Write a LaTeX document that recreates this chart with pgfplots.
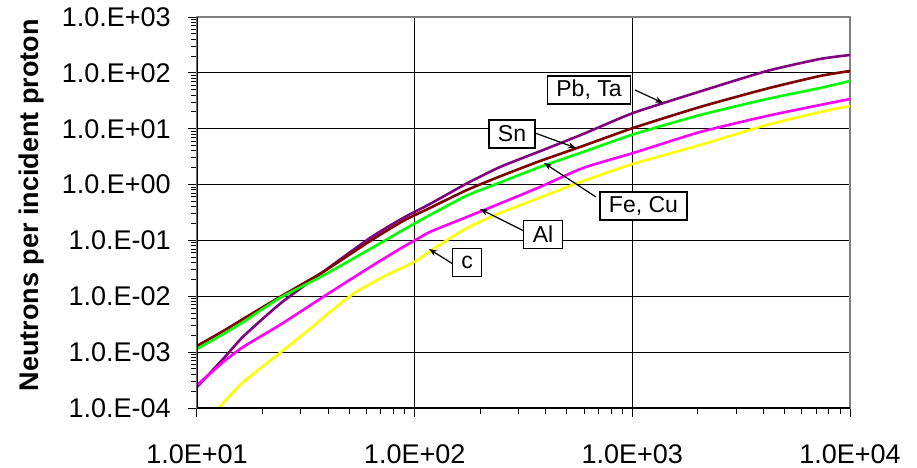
\documentclass[border=0pt]{standalone}
\usepackage{pgfplots}
\pgfplotsset{compat=1.18}
\usepackage{fontspec}
\setmainfont{Liberation Sans}
\usetikzlibrary{arrows.meta}
\definecolor{cPb}{RGB}{128,0,128}
\definecolor{cSn}{RGB}{128,0,0}
\definecolor{cFe}{RGB}{0,255,0}
\definecolor{cAl}{RGB}{255,0,255}
\definecolor{cC}{RGB}{255,255,0}
\begin{document}
\begin{tikzpicture}
\path[use as bounding box] (-98.5pt,-29.5pt) rectangle (360pt,204pt);
\begin{axis}[
  at={(0,0)}, anchor=south west,
  scale only axis,
  width=326.5pt, height=195.5pt,
  xmode=log, ymode=log,
  xmin=10, xmax=10000, ymin=1e-4, ymax=1e3,
  xtick={10,100,1000,10000},
  xticklabels={1.0E+01,1.0E+02,1.0E+03,1.0E+04},
  ytick={1e-4,1e-3,1e-2,1e-1,1,10,100,1000},
  yticklabels={1.0.E-04,1.0.E-03,1.0.E-02,1.0.E-01,1.0.E+00,1.0.E+01,1.0.E+02,1.0.E+03},
  minor xtick={}, minor ytick={},
  xtick pos=left, ytick pos=left,
  tick align=outside,
  major tick length=4.5pt,
  tick style={black, line width=0.5pt},
  grid=major,
  major grid style={black, line width=0.5pt},
  axis line style={gray, line width=0.6pt},
  tick label style={font=\fontsize{13.5}{16}\selectfont, inner sep=0pt},
  xticklabel style={anchor=north, yshift=-13.5pt},
  yticklabel style={anchor=east, xshift=-8.5pt},
  ylabel={\bfseries Neutrons per incident proton},
  ylabel style={font=\fontsize{13.5}{16}\selectfont, at={(axis description cs:-0.2527,0.519)}, rotate=0, anchor=center},
  every axis plot/.append style={line width=1.3pt, no markers, smooth, tension=0.35},
  clip=true,
]
\addplot[cPb] coordinates {
(10,2.38e-4) (13.2,7.6e-4) (16.3,1.9e-3) (24.0,7.28e-3) (37.9,2.72e-2)
(62.4,0.111) (88.4,0.252) (117.5,0.449) (173.8,1.05) (246.5,2.06)
(376.5,3.95) (593,8.0) (1007,19.1) (2046,46.4) (4150,108) (7278,177) (10000,209)};
\addplot[cSn] coordinates {
(10,1.29e-3) (13.2,2.39e-3) (16.3,3.93e-3) (24.0,9.7e-3) (37.9,2.72e-2)
(62.4,9.77e-2) (88.4,0.223) (117.5,0.381) (173.8,0.80) (246.5,1.40)
(376.5,2.64) (593,4.91) (1007,10.3) (2046,24.5) (4150,52.2) (7278,87.9) (10000,108)};
\addplot[cFe] coordinates {
(10,1.14e-3) (13.2,2.11e-3) (16.3,3.47e-3) (24.0,9.33e-3) (37.9,2.35e-2)
(62.4,7.03e-2) (88.4,0.154) (117.5,0.285) (173.8,0.637) (246.5,1.09)
(376.5,2.07) (593,3.83) (1007,7.9) (2046,17.6) (4150,34.0) (7278,53.6) (10000,71.5)};
\addplot[cAl] coordinates {
(10,2.58e-4) (13.2,6.67e-4) (16.3,1.24e-3) (24.0,3.06e-3) (37.9,9.7e-3)
(62.4,3.34e-2) (88.4,7.63e-2) (100,0.1) (117.5,0.142) (173.8,0.263) (246.5,0.458)
(376.5,0.906) (593,1.98) (1007,3.67) (2046,8.73) (4150,16.9) (7278,26.6) (10000,34.0)};
\addplot[cC] coordinates {
(12.6,1.02e-4) (16.3,2.92e-4) (24.0,9.66e-4) (31.7,2.30e-3) (43.5,6.43e-3)
(53.7,1.19e-2) (71.4,2.22e-2) (101.4,4.29e-2) (117.5,6.5e-2) (173.8,0.167) (246.5,0.31)
(376.5,0.587) (593,1.16) (1007,2.35) (2046,5.12) (4150,11.7) (7278,19.9) (10000,25.5)};
\draw[black, line width=0.7pt] (rel axis cs:0,1) -- (rel axis cs:0,0) -- (rel axis cs:1,0);
\end{axis}
\begin{scope}[every node/.style={draw=black, line width=0.6pt, fill=white, font=\fontsize{11.5}{14}\selectfont, inner xsep=4.5pt, inner ysep=0pt, minimum height=14pt},
  arr/.style={-{Stealth[length=4pt,width=3pt]}, black, line width=0.6pt}]
\draw[arr] (219pt,159pt) -- (233pt,152.5pt);
\node at (196pt,159pt) {Pb, Ta};
\draw[arr] (169pt,137.5pt) -- (189.5pt,130pt);
\node at (157.5pt,137pt) {Sn};
\draw[arr] (199.5pt,105.5pt) -- (173.5pt,122.5pt);
\node at (223.25pt,101pt) {Fe, Cu};
\draw[arr] (164.5pt,88pt) -- (141.5pt,99.5pt);
\node at (173pt,86.75pt) {Al};
\draw[arr] (128pt,72pt) -- (116pt,79.5pt);
\node at (135pt,72.75pt) {c};
\end{scope}
\end{tikzpicture}
\end{document}
